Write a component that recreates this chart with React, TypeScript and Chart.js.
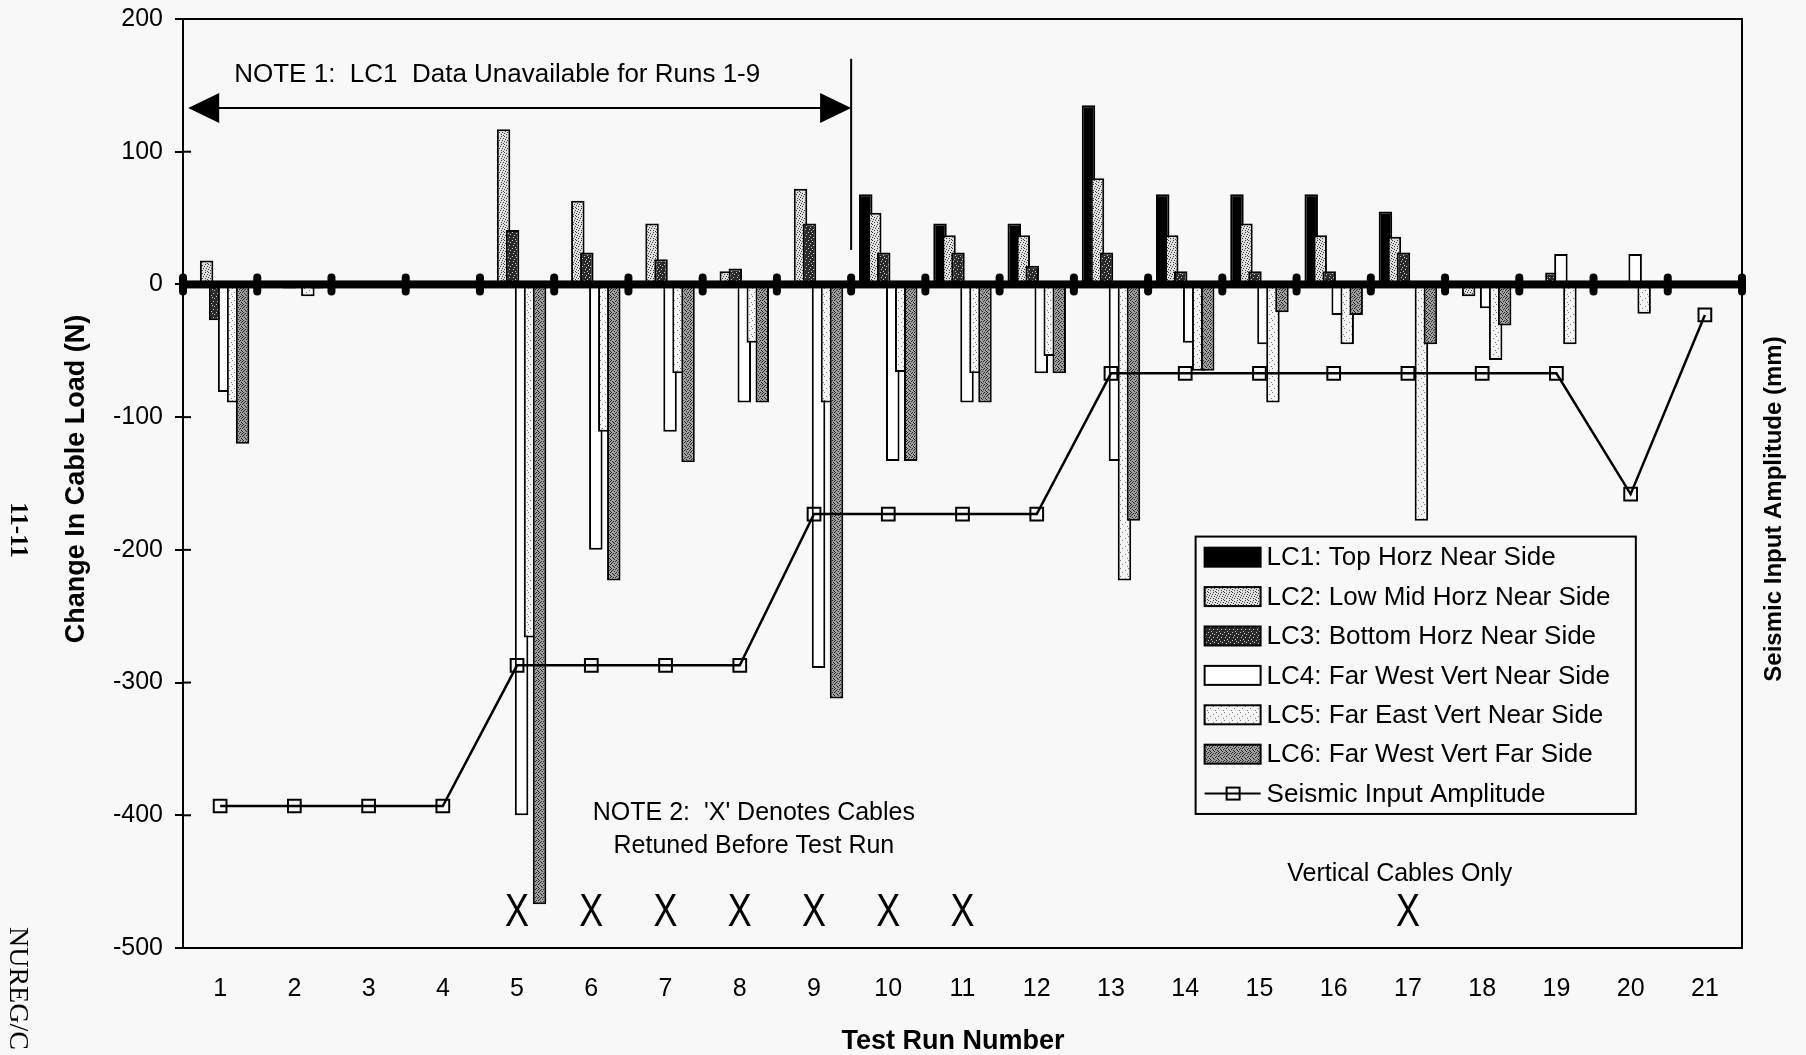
import { useEffect, useRef } from 'react';
import { Chart, registerables } from 'chart.js';

Chart.register(...registerables);

// ---------- DATA ----------
const runs = ['1', '2', '3', '4', '5', '6', '7', '8', '9', '10', '11', '12', '13', '14', '15', '16', '17', '18', '19', '20', '21'];

const lc1 = [null, null, null, null, null, null, null, null, null, 68, 46, 46, 135, 68, 68, 68, 55, null, null, null, null];
const lc2 = [18, null, null, null, 117, 63, 46, 10, 72, 54, 37, 37, 80, 37, 46, 37, 36, -9, null, null, null];
const lc3 = [-27, -3, null, null, 41, 24, 19, 12, 46, 24, 24, 14, 24, 10, 10, 10, 24, null, 9, null, null];
const lc4 = [-81, -2, null, null, -400, -200, -111, -89, -289, -133, -89, -67, -133, -44, -45, -23, null, -18, 23, 23, null];
const lc5 = [-89, -9, null, null, -266, -111, -67, -44, -89, -66, -67, -54, -223, -65, -89, -45, -178, -57, -45, -22, null];
const lc6 = [-120, -3, null, null, -467, -223, -134, -89, -312, -133, -89, -67, -178, -65, -21, -23, -45, -31, null, null, null];
const seismic = [-393, -393, -393, -393, -287, -287, -287, -287, -173, -173, -173, -173, -67, -67, -67, -67, -67, -67, -67, -158, -23];

const seriesNames = [
  'LC1: Top Horz Near Side',
  'LC2: Low Mid Horz Near Side',
  'LC3: Bottom Horz Near Side',
  'LC4: Far West Vert Near Side',
  'LC5: Far East Vert Near Side',
  'LC6: Far West Vert Far Side',
];
const lineName = 'Seismic Input Amplitude';

const retunedRuns = [5, 6, 7, 8, 9, 10, 11, 17];

const yMin = -500;
const yMax = 200;
const yStep = 100;

const xTitle = 'Test Run Number';
const yTitle = 'Change In Cable Load (N)';
const y2Title = 'Seismic Input Amplitude (mm)';
const note1 = 'NOTE 1:  LC1  Data Unavailable for Runs 1-9';
const note2 = ["NOTE 2:  'X' Denotes Cables", 'Retuned Before Test Run'];
const note3 = 'Vertical Cables Only';

// ---------- STYLE ----------
const SANS = '"Liberation Sans", Arial, Helvetica, sans-serif';
const SERIF = '"Liberation Serif", "Times New Roman", serif';
const BG = '#f8f8f8';

function makePattern(base: string, ink: string, rows: string[]) {
  const c = document.createElement('canvas');
  c.width = rows[0].length;
  c.height = rows.length;
  const g = c.getContext('2d')!;
  g.fillStyle = base;
  g.fillRect(0, 0, c.width, c.height);
  g.fillStyle = ink;
  rows.forEach((r, y) => {
    r.split('').forEach((ch, x) => {
      if (ch === '1') g.fillRect(x, y, 1, 1);
    });
  });
  return g.createPattern(c, 'repeat')!;
}

export default function App() {
  const ref = useRef<HTMLCanvasElement | null>(null);

  useEffect(() => {
    const canvas = ref.current!;
    const fills: any[] = [
      '#000000',
      makePattern('#e0e0e0', '#3a3a3a', ['10000100', '00100000', '00001001', '01000000', '00010010', '10000000', '00100100', '00000001']),
      makePattern('#2a2a2a', '#c8c8c8', ['10000000', '00001000', '00000010', '00100000', '00000000', '01000100', '00000000', '00010000']),
      '#ffffff',
      makePattern('#f6f6f6', '#777777', ['10000000', '00000000', '00000100', '00000000', '00100000', '00000000', '00000001', '00000000']),
      makePattern('#a0a0a0', '#222222', ['10010000', '00100101', '01001000', '00010010', '10100000', '00001001', '01000100', '00100010']),
    ];
    const seriesData = [lc1, lc2, lc3, lc4, lc5, lc6];

    const plugin = {
      id: 'customDraw',
      beforeDraw(chart: any) {
        const { ctx, width, height } = chart;
        ctx.save();
        ctx.fillStyle = BG;
        ctx.fillRect(0, 0, width, height);
        ctx.restore();
      },
      beforeDatasetDraw() {
        return false;
      },
      afterDatasetsDraw(chart: any) {
        const { ctx, chartArea: a } = chart;
        const xs = chart.scales.x;
        const ys = chart.scales.y;
        ctx.save();
        ctx.beginPath();
        ctx.rect(a.left, a.top, a.right - a.left, a.bottom - a.top);
        ctx.clip();
        for (let i = 0; i < 6; i++) chart.getDatasetMeta(i).controller.draw();
        const y0 = ys.getPixelForValue(0);
        ctx.fillStyle = '#000';
        ctx.fillRect(a.left, y0 - 4, a.right - a.left, 8);
        ctx.restore();
        ctx.save();
        ctx.fillStyle = '#000';
        for (let k = 0; k <= runs.length; k++) {
          const x = xs.getPixelForValue(k - 0.5);
          ctx.beginPath();
          (ctx as any).roundRect(x - 4, y0 - 11, 8, 22, 4);
          ctx.fill();
        }
        ctx.restore();
        ctx.save();
        chart.getDatasetMeta(6).controller.draw();
        ctx.restore();
      },
      afterDraw(chart: any) {
        const { ctx, chartArea: a } = chart;
        const xs = chart.scales.x;
        const ys = chart.scales.y;
        const px = (v: number) => xs.getPixelForValue(v);
        const py = (v: number) => ys.getPixelForValue(v);
        ctx.save();
        ctx.strokeStyle = '#000';
        ctx.fillStyle = '#000';
        ctx.lineWidth = 2;
        ctx.beginPath();
        ctx.moveTo(a.left, a.top);
        ctx.lineTo(a.right, a.top);
        ctx.lineTo(a.right, a.bottom);
        ctx.stroke();
        for (let v = yMin; v <= yMax; v += yStep) {
          const y = py(v);
          ctx.beginPath();
          ctx.moveTo(a.left, y);
          ctx.lineTo(a.left + 8, y);
          ctx.stroke();
        }

        // axis titles
        ctx.textBaseline = 'middle';
        ctx.textAlign = 'center';
        ctx.font = `bold 27px ${SANS}`;
        ctx.fillText(xTitle, 953, 1042);
        ctx.save();
        ctx.translate(77, 479);
        ctx.rotate(-Math.PI / 2);
        ctx.fillText(yTitle, 0, 0);
        ctx.restore();
        ctx.save();
        ctx.translate(1774, 509);
        ctx.rotate(-Math.PI / 2);
        ctx.font = `bold 24px ${SANS}`;
        ctx.fillText(y2Title, 0, 0);
        ctx.restore();

        // NOTE 1 and arrow
        ctx.font = `26px ${SANS}`;
        ctx.textAlign = 'left';
        ctx.fillText(note1, px(0.19), py(158));
        const ay = py(133);
        const xl = px(-0.43);
        const xr = px(8.5);
        ctx.lineWidth = 2;
        ctx.beginPath();
        ctx.moveTo(xl + 20, ay);
        ctx.lineTo(xr - 20, ay);
        ctx.stroke();
        ctx.beginPath();
        ctx.moveTo(xl, ay);
        ctx.lineTo(xl + 31, ay - 15);
        ctx.lineTo(xl + 31, ay + 15);
        ctx.closePath();
        ctx.fill();
        ctx.beginPath();
        ctx.moveTo(xr, ay);
        ctx.lineTo(xr - 31, ay - 15);
        ctx.lineTo(xr - 31, ay + 15);
        ctx.closePath();
        ctx.fill();
        ctx.beginPath();
        ctx.moveTo(xr, py(170));
        ctx.lineTo(xr, py(26));
        ctx.stroke();

        // NOTE 2
        ctx.textAlign = 'center';
        ctx.font = `25px ${SANS}`;
        ctx.fillText(note2[0], px(7.19), py(-398));
        ctx.fillText(note2[1], px(7.19), py(-423));
        ctx.fillText(note3, px(15.89), py(-444));

        // X marks
        ctx.font = `46px ${SANS}`;
        retunedRuns.forEach((r) => {
          ctx.save();
          ctx.translate(px(r - 1), py(-472));
          ctx.scale(0.78, 1);
          ctx.fillText('X', 0, 2);
          ctx.restore();
        });

        // Legend
        const lx0 = px(13.14);
        const lx1 = px(19.07);
        const ly0 = py(-190);
        const ly1 = py(-399);
        ctx.fillStyle = BG;
        ctx.fillRect(lx0, ly0, lx1 - lx0, ly1 - ly0);
        ctx.lineWidth = 2;
        ctx.strokeRect(lx0, ly0, lx1 - lx0, ly1 - ly0);
        ctx.font = `26px ${SANS}`;
        ctx.textAlign = 'left';
        const names = [...seriesNames, lineName];
        names.forEach((n, i) => {
          const cy = ly0 + 20.6 + i * 39.4;
          if (i < 6) {
            ctx.fillStyle = fills[i];
            ctx.fillRect(lx0 + 9, cy - 9.5, 56, 19);
            ctx.lineWidth = 2;
            ctx.strokeRect(lx0 + 9, cy - 9.5, 56, 19);
          } else {
            ctx.lineWidth = 2;
            ctx.beginPath();
            ctx.moveTo(lx0 + 9, cy);
            ctx.lineTo(lx0 + 65, cy);
            ctx.stroke();
            ctx.strokeRect(lx0 + 31, cy - 6, 13, 12);
          }
          ctx.fillStyle = '#000';
          ctx.fillText(n, lx0 + 71, cy + 1);
        });

        // page margin text
        ctx.save();
        ctx.font = `bold 25px ${SERIF}`;
        ctx.translate(17, 530);
        ctx.rotate(Math.PI / 2);
        ctx.textAlign = 'center';
        ctx.fillText('11-11', 0, 0);
        ctx.restore();
        ctx.save();
        ctx.font = `28px ${SERIF}`;
        ctx.translate(17, 927);
        ctx.rotate(Math.PI / 2);
        ctx.textAlign = 'left';
        ctx.fillText('NUREG/C', 0, 0);
        ctx.restore();

        ctx.restore();
      },
    };

    const chart = new Chart(canvas, {
      type: 'bar',
      data: {
        labels: runs,
        datasets: [
          ...seriesData.map((d, i) => ({
            type: 'bar' as const,
            label: seriesNames[i],
            data: d,
            backgroundColor: fills[i],
            borderColor: '#000',
            borderWidth: 2,
            yAxisID: 'y',
            categoryPercentage: 0.727,
            barPercentage: 1.5,
          })),
          {
            type: 'line' as const,
            label: lineName,
            data: seismic,
            yAxisID: 'y2',
            borderColor: '#000',
            borderWidth: 2.5,
            tension: 0,
            pointStyle: 'rect',
            pointRadius: 9,
            pointBorderWidth: 2,
            pointBackgroundColor: 'rgba(0,0,0,0)',
            pointBorderColor: '#000',
            order: -1,
          } as any,
        ],
      },
      options: {
        responsive: false,
        animation: false,
        devicePixelRatio: 1,
        layout: { padding: { top: 19, left: 0, right: 0, bottom: 0 } },
        plugins: { legend: { display: false }, tooltip: { enabled: false } },
        scales: {
          x: {
            type: 'category',
            offset: true,
            grid: { display: false, drawTicks: false },
            border: { display: true, color: '#000', width: 2 },
            ticks: { color: '#000', font: { size: 25, family: SANS }, padding: 26, maxRotation: 0, autoSkip: false },
            afterFit(s: any) {
              s.height = 107;
              s.paddingLeft = 0;
              s.paddingRight = 0;
            },
          },
          y: {
            position: 'left',
            min: yMin,
            max: yMax,
            ticks: { stepSize: yStep, color: '#000', font: { size: 25, family: SANS }, padding: 12 },
            grid: { drawOnChartArea: false, drawTicks: true, tickLength: 8, color: '#000', lineWidth: 2 },
            border: { display: true, color: '#000', width: 2 },
            afterFit(s: any) {
              s.width = 183;
              s.paddingTop = 0;
              s.paddingBottom = 0;
            },
          },
          y2: {
            position: 'right',
            min: yMin,
            max: yMax,
            ticks: { display: false },
            grid: { display: false, drawTicks: false },
            border: { display: false },
            afterFit(s: any) {
              s.width = 64;
              s.paddingTop = 0;
              s.paddingBottom = 0;
            },
          },
        },
      } as any,
      plugins: [plugin],
    });
    return () => chart.destroy();
  }, []);

  return (
    <div style={{ position: 'fixed', left: 0, top: 0, width: 1806, height: 1055, background: BG }}>
      <canvas ref={ref} width={1806} height={1055} style={{ display: 'block', width: 1806, height: 1055 }} />
    </div>
  );
}
